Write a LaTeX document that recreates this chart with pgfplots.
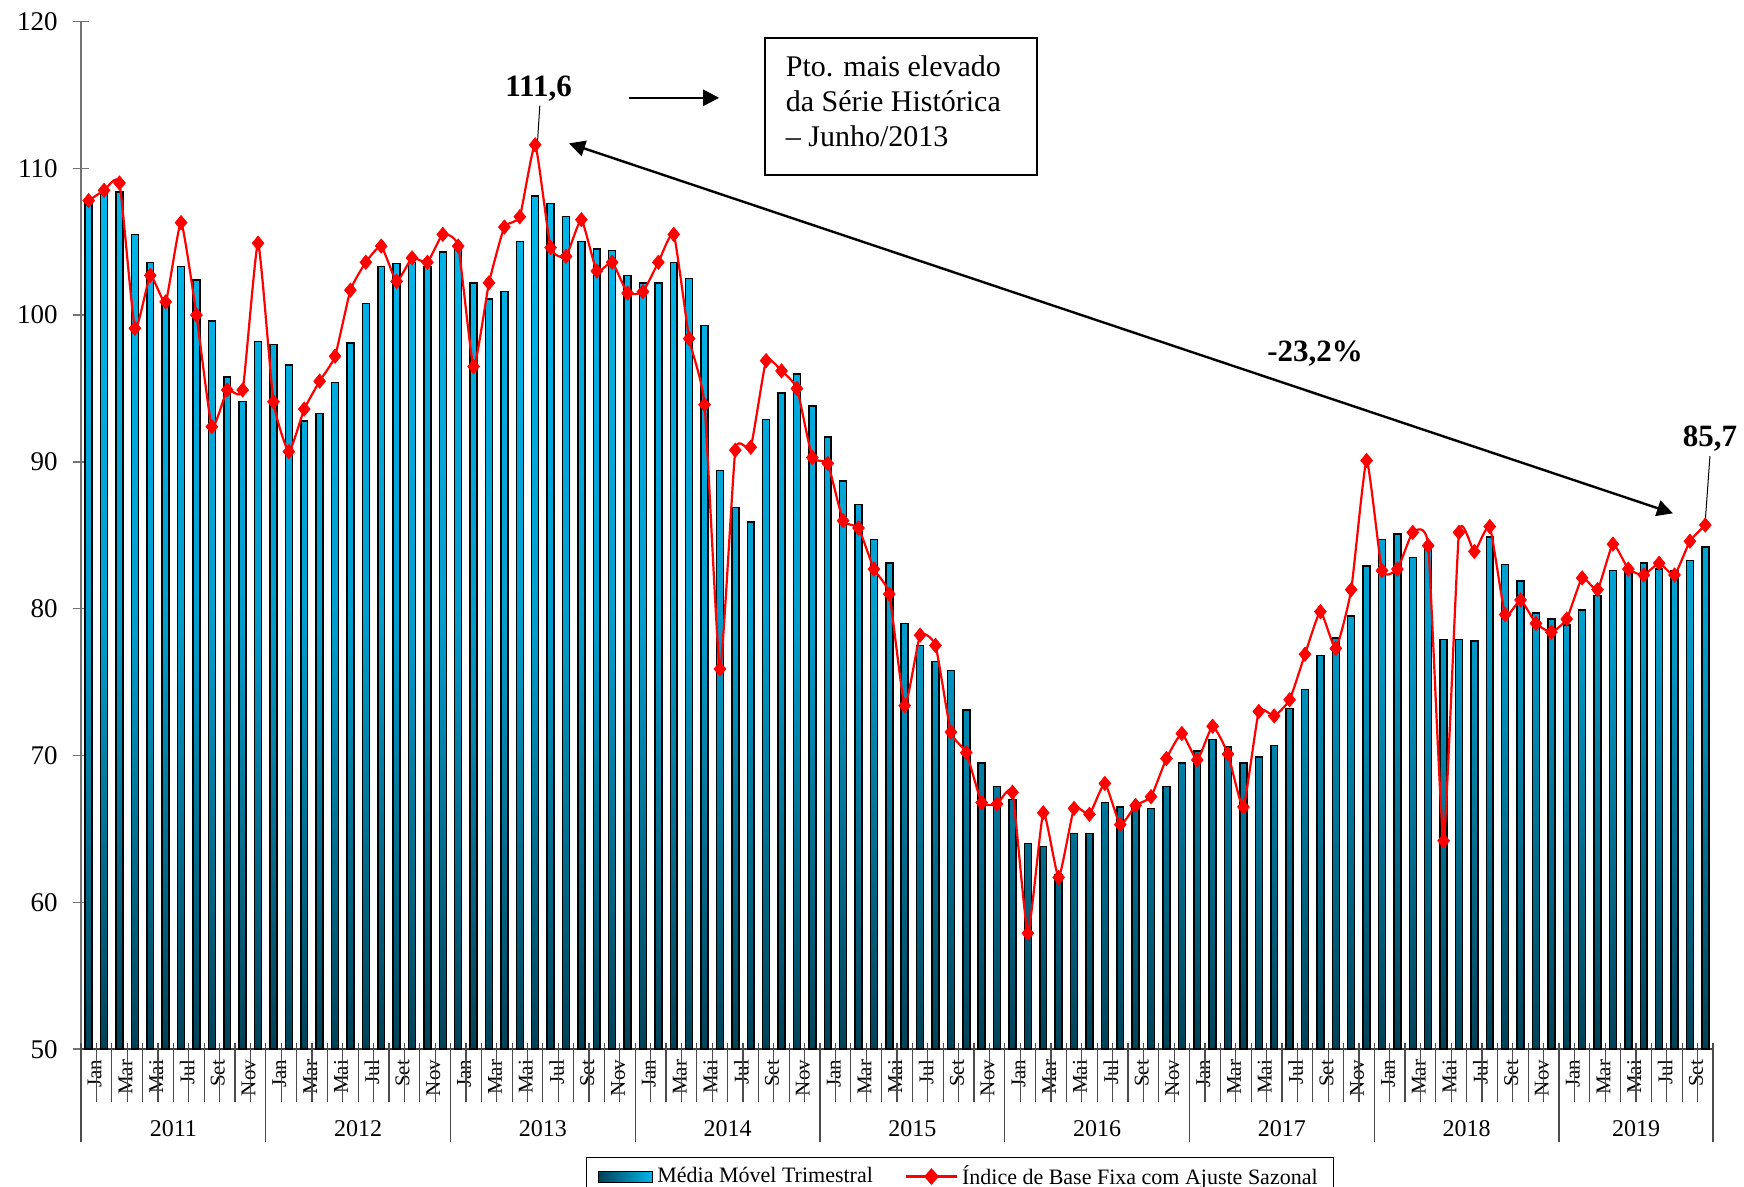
\documentclass[border=0pt]{standalone}
\usepackage{pgfplots}
\usepackage{pgfplotstable}
\pgfplotsset{compat=1.18}
\usepackage{fontspec}
\setmainfont{Liberation Serif}
\usetikzlibrary{arrows.meta}
\definecolor{barTop}{RGB}{0,183,235}
\definecolor{barMid}{RGB}{0,158,205}
\definecolor{barBot}{RGB}{0,66,88}
\definecolor{lineRed}{RGB}{255,0,0}

\pgfplotstableread{
x mma idx
0 107.7 107.8
1 108.3 108.5
2 108.4 109.0
3 105.5 99.1
4 103.6 102.7
5 100.9 100.9
6 103.3 106.3
7 102.4 100.0
8 99.6 92.4
9 95.8 94.9
10 94.1 94.9
11 98.2 104.9
12 98.0 94.1
13 96.6 90.7
14 92.8 93.6
15 93.3 95.5
16 95.4 97.2
17 98.1 101.7
18 100.8 103.6
19 103.3 104.7
20 103.5 102.3
21 103.6 103.9
22 103.3 103.6
23 104.3 105.5
24 104.6 104.7
25 102.2 96.5
26 101.1 102.2
27 101.6 106.0
28 105.0 106.7
29 108.1 111.6
30 107.6 104.6
31 106.7 104.0
32 105.0 106.5
33 104.5 103.0
34 104.4 103.6
35 102.7 101.5
36 102.2 101.6
37 102.2 103.6
38 103.6 105.5
39 102.5 98.4
40 99.3 93.9
41 89.4 75.9
42 86.9 90.8
43 85.9 91.0
44 92.9 96.9
45 94.7 96.2
46 96.0 95.0
47 93.8 90.3
48 91.7 89.9
49 88.7 86.0
50 87.1 85.5
51 84.7 82.7
52 83.1 81.0
53 79.0 73.4
54 77.5 78.2
55 76.4 77.5
56 75.8 71.6
57 73.1 70.2
58 69.5 66.8
59 67.9 66.7
60 67.0 67.5
61 64.0 57.9
62 63.8 66.1
63 61.9 61.7
64 64.7 66.4
65 64.7 66.0
66 66.8 68.1
67 66.5 65.3
68 66.7 66.6
69 66.4 67.2
70 67.9 69.8
71 69.5 71.5
72 70.3 69.7
73 71.1 72.0
74 70.6 70.1
75 69.5 66.5
76 69.9 73.0
77 70.7 72.7
78 73.2 73.8
79 74.5 76.9
80 76.8 79.8
81 78.0 77.3
82 79.5 81.3
83 82.9 90.1
84 84.7 82.6
85 85.1 82.7
86 83.5 85.2
87 84.1 84.3
88 77.9 64.2
89 77.9 85.2
90 77.8 83.9
91 84.9 85.6
92 83.0 79.6
93 81.9 80.6
94 79.7 79.0
95 79.3 78.4
96 78.9 79.3
97 79.9 82.1
98 80.9 81.3
99 82.6 84.4
100 82.8 82.7
101 83.1 82.3
102 82.7 83.1
103 82.6 82.3
104 83.3 84.6
105 84.2 85.7
}\datatable

\begin{document}
\begin{tikzpicture}
\begin{axis}[
  at={(40.5pt,68.9pt)}, anchor=south west,
  scale only axis, width=816pt, height=513.85pt,
  xmin=-0.5, xmax=105.5, ymin=50, ymax=120,
  axis x line=bottom, axis y line=left,
  axis line style={-, line width=0.7pt},
  x axis line style={black!75},
  y axis line style={black!55},
  clip=false,
  ytick={50,60,...,120},
  ytick align=center, major tick length=8.35pt,
  ytick style={black!55, line width=0.7pt},
  yticklabel style={font=\fontsize{13.5}{16}\selectfont, xshift=-4pt},
  /pgf/number format/assume math mode=true,
  xtick={0,2,...,104},
  xticklabels={Jan,Mar,Mai,Jul,Set,Nov,Jan,Mar,Mai,Jul,Set,Nov,Jan,Mar,Mai,Jul,Set,Nov,Jan,Mar,Mai,Jul,Set,Nov,Jan,Mar,Mai,Jul,Set,Nov,Jan,Mar,Mai,Jul,Set,Nov,Jan,Mar,Mai,Jul,Set,Nov,Jan,Mar,Mai,Jul,Set,Nov,Jan,Mar,Mai,Jul,Set},
  xtick style={draw=none},
  xticklabel style={rotate=90, anchor=east, font=\fontsize{10.5}{12}\selectfont, yshift=-3pt, inner xsep=1pt},
  legend columns=2,
  legend style={at={(0.5386,-0.1049)}, anchor=north, draw=black, line width=0.6pt,
    font=\fontsize{11}{13}\selectfont, inner xsep=6pt, inner ysep=2pt,
    /tikz/every even column/.append style={column sep=14pt}},
]
\addplot[ybar, bar width=0.45, bar shift=0pt, draw=black, line width=0.75pt,
  top color=barTop, bottom color=barBot, middle color=barMid,
  legend image code/.code={\draw[left color=barBot, right color=barTop, draw=black, line width=0.5pt] (0pt,-2.75pt) rectangle (27pt,2.75pt);}]
  table[x=x, y=mma] {\datatable};
\addlegendentry{Média Móvel Trimestral}
\addplot[lineRed, line width=1.1pt, smooth, tension=0.28, mark=diamond*, mark size=3.6pt,
  mark options={fill=lineRed, draw=lineRed, xscale=1.1, line width=0.3pt},
  legend image code/.code={\draw[lineRed, line width=1.1pt] (0pt,0pt) -- (25.5pt,0pt);
    \fill[lineRed] (12.75pt,3.4pt) -- (15.7pt,0pt) -- (12.75pt,-3.4pt) -- (9.8pt,0pt) -- cycle;}]
  table[x=x, y=idx] {\datatable};
\addlegendentry{Índice de Base Fixa com Ajuste Sazonal}

% category separators
\pgfplotsinvokeforeach{0,...,104}{
  \draw[black!70, line width=0.6pt] ([yshift=3.1pt]axis cs:#1.5,50) -- ([yshift=-26.25pt]axis cs:#1.5,50);
}
\pgfplotsinvokeforeach{-0.5,11.5,23.5,35.5,47.5,59.5,71.5,83.5,95.5,105.5}{
  \draw[black!70, line width=0.6pt] ([yshift=3.1pt]axis cs:#1,50) -- ([yshift=-46.25pt]axis cs:#1,50);
}
% years
\node[font=\fontsize{12}{14}\selectfont] at ([yshift=-39.9pt]axis cs:5.5,50) {2011};
\node[font=\fontsize{12}{14}\selectfont] at ([yshift=-39.9pt]axis cs:17.5,50) {2012};
\node[font=\fontsize{12}{14}\selectfont] at ([yshift=-39.9pt]axis cs:29.5,50) {2013};
\node[font=\fontsize{12}{14}\selectfont] at ([yshift=-39.9pt]axis cs:41.5,50) {2014};
\node[font=\fontsize{12}{14}\selectfont] at ([yshift=-39.9pt]axis cs:53.5,50) {2015};
\node[font=\fontsize{12}{14}\selectfont] at ([yshift=-39.9pt]axis cs:65.5,50) {2016};
\node[font=\fontsize{12}{14}\selectfont] at ([yshift=-39.9pt]axis cs:77.5,50) {2017};
\node[font=\fontsize{12}{14}\selectfont] at ([yshift=-39.9pt]axis cs:89.5,50) {2018};
\node[font=\fontsize{12}{14}\selectfont] at ([yshift=-39.9pt]axis cs:100.5,50) {2019};

% annotations
\draw[line width=0.9pt] (axis cs:43.9,118.9) rectangle (axis cs:61.6,109.55);
\node[anchor=west, align=left, inner sep=0pt, font=\fontsize{15}{17.5}\selectfont] at (axis cs:45.26,114.54) {Pto. mais elevado\\da Série Histórica\\– Junho/2013};
\draw[line width=1.2pt, -{Triangle[length=8pt,width=8pt]}] (axis cs:35.1,114.8) -- (axis cs:40.95,114.8);
\draw[line width=1.2pt, {Triangle[length=8pt,width=8pt]}-{Triangle[length=8pt,width=8pt]}] (axis cs:31.2,111.7) -- (axis cs:102.9,86.5);
\node[font=\fontsize{15.5}{18}\selectfont\bfseries] at (axis cs:29.22,115.4) {111,6};
\draw[line width=0.5pt] (axis cs:29.3,114.27) -- (axis cs:29.15,111.8);
\node[font=\fontsize{15.5}{18}\selectfont\bfseries] at (axis cs:79.66,97.39) {-23,2\%};
\node[font=\fontsize{15.5}{18}\selectfont\bfseries] at (axis cs:105.3,91.56) {85,7};
\draw[line width=0.5pt] (axis cs:105.3,90.4) -- (axis cs:105.0,86.0);
\end{axis}
\pgfresetboundingbox
\path[use as bounding box] (0pt,0pt) rectangle (872pt,593.5pt);
\end{tikzpicture}
\end{document}
